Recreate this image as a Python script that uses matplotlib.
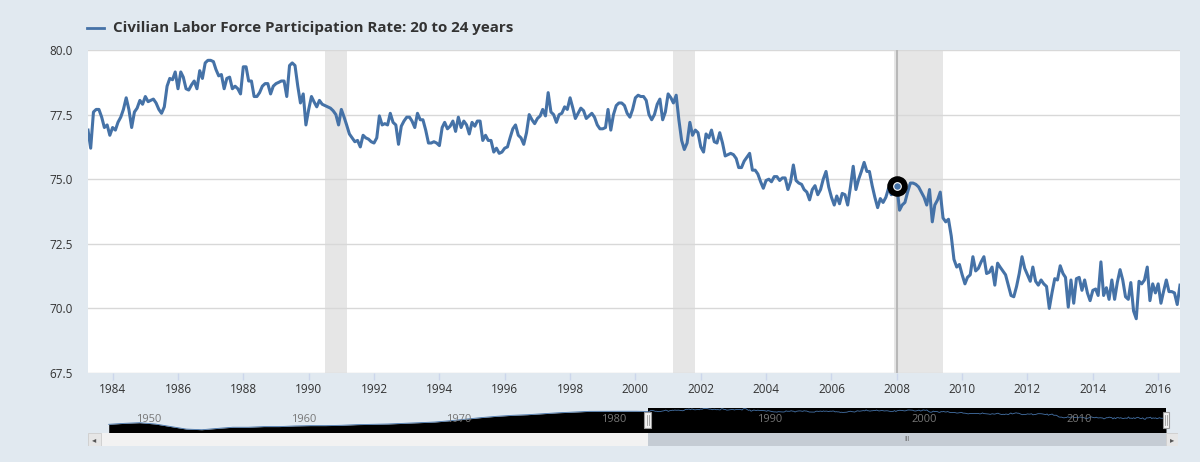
import numpy as np
import pandas as pd
import matplotlib
matplotlib.use("Agg")
import matplotlib.pyplot as plt
import matplotlib.dates as mdates
from matplotlib.lines import Line2D
from matplotlib.patches import Rectangle
from matplotlib.transforms import blended_transform_factory

plt.rcParams['font.family'] = ['Open Sans', 'DejaVu Sans']

# -------------------------------
# 1. Data
# -------------------------------
title = "Civilian Labor Force Participation Rate: 20 to 24 years"
first_month = "1983-04-01"

# monthly values, Apr 1983 .. Sep 2016
rate_1983_1989 = [
    76.9, 76.2, 77.6, 77.7, 77.7, 77.4, 77.0, 77.1, 76.7,
    77.0, 76.9, 77.2, 77.4, 77.7, 78.15, 77.7, 77.0, 77.6, 77.75, 78.05, 77.9,
    78.2, 78.0, 78.05, 78.1, 77.95, 77.7, 77.55, 77.8, 78.6, 78.9, 78.85, 79.15,
    78.5, 79.15, 78.95, 78.5, 78.45, 78.65, 78.8, 78.5, 79.2, 78.9, 79.5, 79.6,
    79.6, 79.55, 79.25, 79.0, 79.05, 78.5, 78.9, 78.95, 78.5, 78.6, 78.5, 78.3,
    79.35, 79.35, 78.8, 78.8, 78.2, 78.2, 78.35, 78.6, 78.7, 78.7, 78.3, 78.6,
    78.7, 78.75, 78.8, 78.8, 78.2, 79.4, 79.5, 79.4, 78.6, 77.95, 78.3, 77.1,
]
rate_1990_1999 = [
    77.7, 78.2, 78.0, 77.8, 78.05, 77.9, 77.85, 77.8, 77.75, 77.65, 77.5, 77.1,
    77.7, 77.4, 77.1, 76.75, 76.6, 76.45, 76.5, 76.25, 76.7, 76.6, 76.55, 76.45,
    76.4, 76.6, 77.45, 77.1, 77.15, 77.1, 77.55, 77.2, 77.1, 76.35, 77.05, 77.25,
    77.4, 77.4, 77.25, 77.0, 77.55, 77.3, 77.3, 76.9, 76.4, 76.4, 76.45, 76.4,
    76.3, 77.0, 77.2, 76.95, 77.05, 77.25, 76.85, 77.4, 77.0, 77.25, 77.1, 76.75,
    77.2, 77.05, 77.25, 77.25, 76.5, 76.7, 76.5, 76.5, 76.05, 76.2, 76.0, 76.05,
    76.2, 76.25, 76.6, 76.95, 77.1, 76.7, 76.6, 76.35, 76.8, 77.5, 77.3, 77.15,
    77.35, 77.45, 77.7, 77.45, 78.35, 77.6, 77.5, 77.2, 77.5, 77.55, 77.8, 77.7,
    78.15, 77.75, 77.35, 77.55, 77.75, 77.65, 77.35, 77.45, 77.55, 77.4, 77.1, 76.95,
    76.95, 77.0, 77.7, 76.9, 77.5, 77.85, 77.95, 77.95, 77.85, 77.55, 77.4, 77.7,
]
rate_2000_2009 = [
    78.15, 78.25, 78.2, 78.2, 78.05, 77.5, 77.3, 77.5, 77.9, 78.1, 77.3, 77.6,
    78.3, 78.15, 77.95, 78.25, 77.3, 76.5, 76.15, 76.4, 77.2, 76.7, 76.9, 76.8,
    76.25, 76.05, 76.75, 76.6, 76.9, 76.45, 76.4, 76.8, 76.4, 75.9, 75.95, 76.0,
    75.95, 75.8, 75.45, 75.45, 75.7, 75.85, 76.0, 75.35, 75.35, 75.2, 74.9, 74.65,
    74.95, 75.0, 74.9, 75.1, 75.1, 74.95, 75.05, 75.05, 74.6, 74.9, 75.55, 74.95,
    74.85, 74.8, 74.6, 74.5, 74.2, 74.6, 74.75, 74.4, 74.6, 75.0, 75.3, 74.7,
    74.3, 74.0, 74.35, 74.05, 74.45, 74.4, 74.0, 74.7, 75.5, 74.6, 75.0, 75.3,
    75.65, 75.3, 75.3, 74.75, 74.3, 73.9, 74.25, 74.1, 74.3, 74.65, 74.4, 74.5,
    74.75, 73.8, 74.0, 74.1, 74.5, 74.85, 74.85, 74.8, 74.7, 74.5, 74.3, 74.0,
    74.6, 73.35, 74.0, 74.2, 74.5, 73.5, 73.35, 73.45, 72.8, 71.9, 71.6, 71.7,
]
rate_2010_2016 = [
    71.3, 70.95, 71.2, 71.3, 72.0, 71.45, 71.55, 71.8, 72.0, 71.35, 71.4, 71.6,
    70.9, 71.75, 71.6, 71.45, 71.3, 70.9, 70.5, 70.45, 70.85, 71.35, 72.0, 71.55,
    71.3, 71.05, 71.6, 71.05, 70.9, 71.1, 70.95, 70.85, 70.0, 70.6, 71.15, 71.1,
    71.65, 71.35, 71.2, 70.05, 71.1, 70.2, 71.15, 71.2, 70.7, 71.1, 70.6, 70.3,
    70.7, 70.75, 70.5, 71.8, 70.5, 70.8, 70.35, 71.1, 70.35, 71.0, 71.5, 71.1,
    70.45, 70.35, 71.0, 69.9, 69.6, 71.05, 70.95, 71.1, 71.6, 70.3, 70.95, 70.6,
    70.95, 70.2, 70.65, 71.1, 70.65, 70.65, 70.6, 70.15, 70.9,
]

# yearly values for the navigator strip before the chart window
nav_years = list(range(1948, 1983))
nav_rate = [
    65.0, 65.9, 66.5, 65.3, 62.9, 60.6, 60.0, 61.2, 62.3, 62.3,
    62.9, 62.9, 63.5, 63.8, 63.8, 64.1, 64.7, 65.0, 65.3, 65.9,
    66.5, 67.1, 68.3, 69.7, 71.2, 72.4, 73.3, 73.9, 74.8, 75.7,
    76.3, 77.0, 77.1, 77.1, 77.1,
]

recession_starts = ["1990-07-01", "2001-03-01", "2007-12-01"]
recession_ends = ["1991-03-01", "2001-11-01", "2009-06-01"]
hover_date = "2008-01-01"

y_ticks = [67.5, 70.0, 72.5, 75.0, 77.5, 80.0]
x_tick_years = list(range(1984, 2017, 2))
nav_label_years = [1950, 1960, 1970, 1980, 1990, 2000, 2010]

rate = rate_1983_1989 + rate_1990_1999 + rate_2000_2009 + rate_2010_2016
dates = pd.date_range(first_month, periods=len(rate), freq="MS")
series = pd.Series(rate, index=dates)

# -------------------------------
# 2. Styles
# -------------------------------
BG = "#e1e9f0"
BLUE = "#4572a7"
W, H = 1200, 462

fig = plt.figure(figsize=(W / 100, H / 100), dpi=100)
fig.patch.set_facecolor(BG)

# -------------------------------
# 3. Main chart
# -------------------------------
ax = fig.add_axes([88 / W, 89 / H, 1092 / W, 323 / H])
ax.set_facecolor("white")
for s in ax.spines.values():
    s.set_visible(False)

for a, b in zip(recession_starts, recession_ends):
    ax.axvspan(pd.Timestamp(a), pd.Timestamp(b), color="#e6e6e6", lw=0, zorder=0)

ax.grid(axis="y", color="#d8d8d8", lw=1, zorder=1)
ax.set_axisbelow(True)

ax.plot(series.index, series.values, color=BLUE, lw=2.2, zorder=3,
        solid_joinstyle="round")

hx = pd.Timestamp(hover_date)
ax.axvline(hx, color="#b8b8b8", lw=1.5, zorder=2)
ax.scatter([hx], [series[hx]], s=190, color="black", zorder=4)
ax.scatter([hx], [series[hx]], s=30, color=BLUE, edgecolor="white", lw=0.8, zorder=5)

ax.set_xlim(dates[0], dates[-1])
ax.set_ylim(y_ticks[0], y_ticks[-1])
ax.set_yticks(y_ticks)
ax.yaxis.set_major_formatter("{x:.1f}")
ax.set_xticks([pd.Timestamp(f"{y}-01-01") for y in x_tick_years])
ax.set_xticklabels([str(y) for y in x_tick_years])
ax.tick_params(axis="y", length=0, pad=11, labelsize=8.5, labelcolor="#333333")
ax.tick_params(axis="x", length=5, width=1, color="#ccd6eb", pad=2,
               labelsize=8.5, labelcolor="#333333")

# legend / title line
fig.add_artist(Line2D([87 / W, 104 / W], [1 - 28 / H, 1 - 28 / H],
                      color=BLUE, lw=2))
fig.text(113 / W, 1 - 28 / H, title, ha="left", va="center",
         fontsize=10.9, fontweight="bold", color="#333333")

# -------------------------------
# 4. Navigator
# -------------------------------
nav = fig.add_axes([101 / W, 30 / H, 1065 / W, 24 / H])
nav.set_facecolor(BG)
for s in nav.spines.values():
    s.set_visible(False)
nav.set_xticks([])
nav.set_yticks([])

nav_dates = pd.to_datetime([f"{y}-07-01" for y in nav_years]).append(dates)
nav_vals = nav_rate + rate
nav.fill_between(nav_dates, nav_vals, 0, color="black", lw=0)
nav.plot(nav_dates, nav_vals, color=BLUE, lw=0.6)
nav.axvspan(dates[0], dates[-1], color="black", lw=0)
nav.set_xlim(pd.Timestamp("1948-01-01"), dates[-1])
nav.set_ylim(57.9, 80.1)

for y in nav_label_years:
    nav.annotate(str(y), (pd.Timestamp(f"{y}-01-01"), 0.5), xycoords=("data", "axes fraction"),
                 xytext=(3, 0), textcoords="offset points", ha="left", va="center",
                 fontsize=8, color="#777777")

trans = blended_transform_factory(nav.transData, nav.transAxes)
for d in [dates[0], dates[-1]]:
    xn = mdates.date2num(d)
    nav.add_patch(Rectangle((xn - 80, 0.15), 160, 0.7, transform=trans,
                            facecolor="#f2f2f2", edgecolor="#999999", lw=0.8,
                            clip_on=False, zorder=5))
    for off in (-25, 25):
        nav.plot([xn + off, xn + off], [0.3, 0.7], transform=trans, color="#999999",
                 lw=0.6, clip_on=False, zorder=6)

# -------------------------------
# 5. Scrollbar
# -------------------------------
sb = fig.add_axes([88 / W, 16 / H, 1090 / W, 13 / H])
for s in sb.spines.values():
    s.set_visible(False)
sb.set_xticks([])
sb.set_yticks([])
x0 = mdates.date2num(pd.Timestamp("1948-01-01"))
x1 = mdates.date2num(dates[-1])
per_px = (x1 - x0) / 1065
sb.set_xlim(x0 - 13 * per_px, x1 + 12 * per_px)
sb.set_ylim(0, 1)
sb.set_facecolor("#f2f2f2")
sb.add_patch(Rectangle((mdates.date2num(dates[0]), 0), x1 - mdates.date2num(dates[0]), 1,
                       facecolor="#c5ccd4", lw=0))
sb.add_patch(Rectangle((x0 - 13 * per_px, 0), 13 * per_px, 1, facecolor="#e6e6e6",
                       edgecolor="#cccccc", lw=0.6))
sb.add_patch(Rectangle((x1, 0), 12 * per_px, 1, facecolor="#e6e6e6",
                       edgecolor="#cccccc", lw=0.6))
sb.text(x0 - 6.5 * per_px, 0.5, "◂", ha="center", va="center", fontsize=6, color="#555555",
        family="DejaVu Sans")
sb.text(x1 + 6 * per_px, 0.5, "▸", ha="center", va="center", fontsize=6, color="#555555",
        family="DejaVu Sans")
sb.text((mdates.date2num(dates[0]) + x1) / 2, 0.5, "III", ha="center", va="center",
        fontsize=5, color="#666666")

fig.savefig("out.png", dpi=100, facecolor=BG)
